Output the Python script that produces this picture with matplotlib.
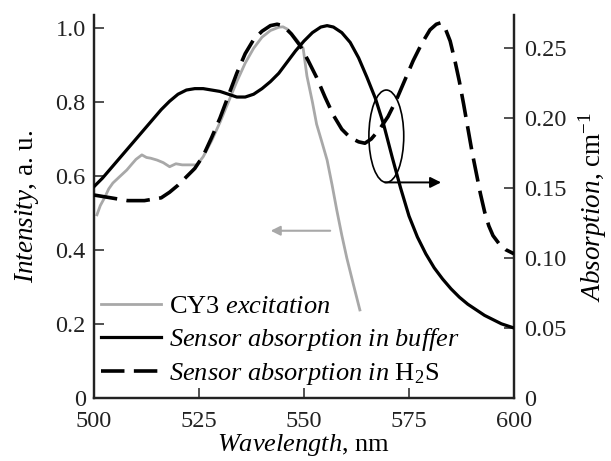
import matplotlib
matplotlib.use("Agg")
import matplotlib.pyplot as plt
from matplotlib.patches import Ellipse

plt.rcParams['font.family'] = ['Liberation Serif', 'DejaVu Serif']
plt.rcParams['mathtext.fontset'] = 'custom'
plt.rcParams['mathtext.rm'] = 'Liberation Serif'
plt.rcParams['mathtext.it'] = 'Liberation Serif:italic'
plt.rcParams['mathtext.bf'] = 'Liberation Serif:bold'

# ---- data ----
cy3_wl = [500.7, 501.5, 502.6, 503.5, 504.5, 506, 507.8, 509, 510, 511.4, 512.5, 513.5, 515, 516.5,
          518, 519.5, 521, 523, 524.5, 526, 528, 530, 532, 534, 536, 538, 540, 542, 544, 545,
          546, 547, 548.5, 549.8, 550.7, 552, 553, 554.3, 555.5, 556.7, 557.8, 559, 560.2,
          561.8, 563.3]
cy3_int = [0.495, 0.520, 0.543, 0.565, 0.581, 0.597, 0.616, 0.632, 0.645, 0.657, 0.650, 0.648, 0.643,
           0.636, 0.625, 0.633, 0.630, 0.630, 0.630, 0.652, 0.695, 0.745, 0.800, 0.855, 0.905, 0.945,
           0.975, 0.993, 1.002, 1.003, 0.997, 0.985, 0.965, 0.945, 0.870, 0.800, 0.740, 0.690, 0.643,
           0.575, 0.508, 0.440, 0.378, 0.305, 0.238]

buf_wl = [500, 502, 504, 506, 508, 510, 512, 514, 516, 518, 520, 522, 524, 526, 528, 530, 532, 534,
          536, 538, 540, 542, 544, 546, 548, 550, 552, 554, 555.5, 557, 559, 561, 563, 565, 567,
          569, 571, 573, 575, 577, 579, 581, 583, 585, 587, 589, 591, 593, 595, 597, 600]
buf_abs = [0.151, 0.157, 0.164, 0.171, 0.178, 0.185, 0.192, 0.199, 0.206, 0.212, 0.217, 0.220, 0.221,
           0.221, 0.220, 0.219, 0.217, 0.215, 0.215, 0.217, 0.221, 0.226, 0.232, 0.240, 0.248, 0.255,
           0.261, 0.265, 0.266, 0.265, 0.261, 0.254, 0.243, 0.229, 0.214, 0.195, 0.172, 0.150, 0.130,
           0.115, 0.103, 0.093, 0.085, 0.078, 0.072, 0.067, 0.063, 0.059, 0.056, 0.053, 0.050]

h2s_wl = [500, 502, 504, 506, 508, 510, 512, 514, 516, 518, 520, 522, 524, 526, 528, 530, 532, 534,
          536, 538, 540, 542, 543.6, 545, 547, 549, 551, 553, 555, 557, 559, 561, 563, 564.5, 566,
          568, 570, 572, 574, 576, 578, 580, 581.5, 582.5, 583.5, 584.8, 586, 587, 588, 589, 590,
          591, 592, 593, 594, 595, 596.5, 598, 600]
h2s_abs = [0.145, 0.144, 0.143, 0.142, 0.141, 0.141, 0.141, 0.142, 0.143, 0.147, 0.152, 0.158, 0.164,
           0.173, 0.186, 0.200, 0.216, 0.232, 0.246, 0.256, 0.262, 0.266, 0.267, 0.266, 0.260, 0.252,
           0.241, 0.229, 0.215, 0.202, 0.192, 0.186, 0.183, 0.182, 0.185, 0.192, 0.201, 0.213, 0.227,
           0.241, 0.253, 0.263, 0.267, 0.268, 0.265, 0.255, 0.240, 0.226, 0.210, 0.193, 0.176, 0.161,
           0.146, 0.133, 0.123, 0.116, 0.110, 0.106, 0.103]

x_ticks = [500, 525, 550, 575, 600]
left_ticks = [0, 0.2, 0.4, 0.6, 0.8, 1.0]
left_labels = ['0', '0.2', '0.4', '0.6', '0.8', '1.0']
right_ticks = [0, 0.05, 0.10, 0.15, 0.20, 0.25]
right_labels = ['0', '0.05', '0.10', '0.15', '0.20', '0.25']

labels = ['CY3 $\\it{excitation}$',
          '$\\it{Sensor\\ absorption\\ in\\ buffer}$',
          '$\\it{Sensor\\ absorption\\ in}$ H$_2$S']

GRAY = '#a8a8a8'
FS = 17.5
XLFS = 19
YLFS = 19.5
GFS = 19

fig = plt.figure(figsize=(6.11, 4.61), dpi=100)
ax = fig.add_axes([94/611, 63/461, 420/611, 383/461])
ax2 = ax.twinx()

l1, = ax.plot(cy3_wl, cy3_int, color=GRAY, lw=2.0, zorder=2)
l2, = ax2.plot(buf_wl, buf_abs, color='black', lw=2.3, zorder=3)
l3, = ax2.plot(h2s_wl, h2s_abs, color='black', lw=2.6, dashes=(6.5, 2.6), zorder=3)

ax.set_xlim(500, 600)
ax.set_ylim(0, 1.035)
ax2.set_ylim(0, 0.2736)

ax.set_xticks(x_ticks)
ax.set_xticklabels([str(t) for t in x_ticks])
ax.set_yticks(left_ticks)
ax.set_yticklabels(left_labels)
ax2.set_yticks(right_ticks)
ax2.set_yticklabels(right_labels)

for a in (ax, ax2):
    a.spines['top'].set_visible(False)
    for s in a.spines.values():
        s.set_linewidth(1.6)
        s.set_color('#222222')
    a.tick_params(direction='in', length=7, width=1.1, labelsize=FS, colors='#222222')
ax.tick_params(axis='x', pad=9)
ax.tick_params(axis='y', pad=6)
ax2.tick_params(axis='y', pad=7)

ax.set_xlabel('$\\it{Wavelength}$, nm', fontsize=XLFS, labelpad=0)
ax.set_ylabel('$\\it{Intensity}$, a. u.', fontsize=YLFS, labelpad=10)
ax2.set_ylabel('$\\it{Absorption}$, cm$^{-1}$', fontsize=YLFS, labelpad=7)

# arrows and ellipse
ax.annotate('', xy=(541.4, 0.452), xytext=(556.9, 0.452),
            arrowprops=dict(arrowstyle='-|>', color=GRAY, lw=1.5, mutation_scale=14))
ax2.add_patch(Ellipse((569.6, 0.187), 8.3, 0.066, fill=False, ec='black', lw=1.2, zorder=4))
ax2.annotate('', xy=(583.3, 0.154), xytext=(568.6, 0.154),
             arrowprops=dict(arrowstyle='-|>', color='black', lw=1.4, mutation_scale=16))

leg = ax2.legend([l1, l2, l3], labels, loc='lower left', bbox_to_anchor=(-0.028, -0.02),
                 frameon=False, fontsize=GFS, handlelength=2.3, handletextpad=0.3,
                 labelspacing=0.3, borderaxespad=0.3)

fig.savefig('out.png', dpi=100)
